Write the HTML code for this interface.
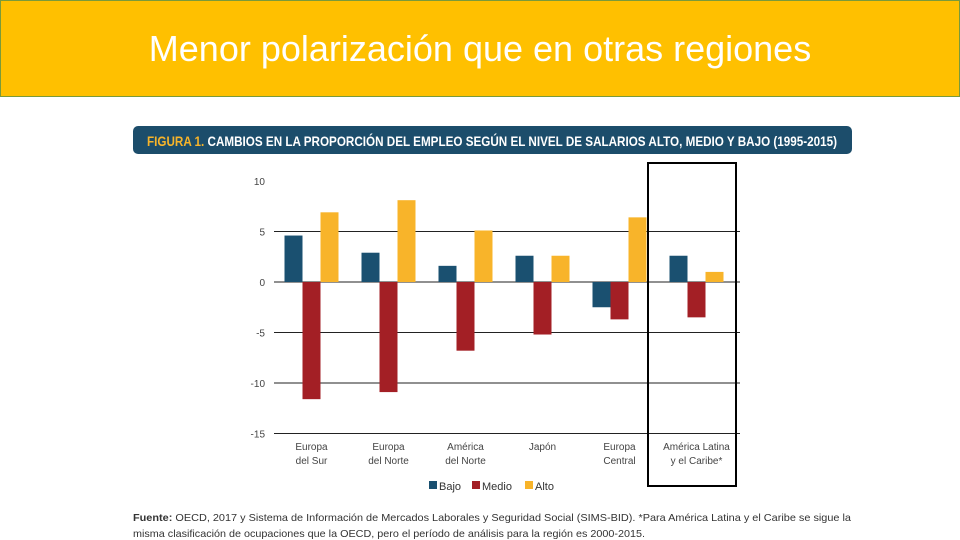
<!DOCTYPE html>
<html><head><meta charset="utf-8"><style>
body{margin:0;width:960px;height:540px;background:#fff;overflow:hidden;font-family:"Liberation Sans",sans-serif}
#banner{position:absolute;left:0;top:0;width:958px;height:95px;background:#FFC000;border:1px solid #7a9a3a;}
#banner div{position:absolute;left:0;right:0;top:27px;text-align:center;color:#fff;font-size:36px;font-weight:300}
svg{position:absolute;left:0;top:0}
</style></head><body>
<div id="banner"><div>Menor polarización que en otras regiones</div></div>
<svg id="chart" width="960" height="540">
<rect x="133" y="126" width="719" height="28" rx="5" fill="#1c4d6b"/>
<text x="147" y="146" font-size="14" font-weight="bold" textLength="690" lengthAdjust="spacingAndGlyphs" fill="#fff"><tspan fill="#f8b42a">FIGURA 1.</tspan> CAMBIOS EN LA PROPORCIÓN DEL EMPLEO SEGÚN EL NIVEL DE SALARIOS ALTO, MEDIO Y BAJO (1995-2015)</text>
<g id="grid"></g><g id="bars"></g><g id="labels"></g>
<rect x="648" y="163" width="88" height="323" fill="none" stroke="#000" stroke-width="2"/>
<g font-size="11" fill="#333">
<rect x="429" y="481" width="8" height="8" fill="#1a5070"/><text x="439" y="490">Bajo</text>
<rect x="472" y="481" width="8" height="8" fill="#a31f25"/><text x="482" y="490">Medio</text>
<rect x="525" y="481" width="8" height="8" fill="#f8b42a"/><text x="535" y="490">Alto</text>
</g>
<text x="133" y="521" font-size="10.5" fill="#333" textLength="718" lengthAdjust="spacingAndGlyphs"><tspan font-weight="bold">Fuente:</tspan> OECD, 2017 y Sistema de Información de Mercados Laborales y Seguridad Social (SIMS-BID). *Para América Latina y el Caribe se sigue la</text>
<text x="133" y="537" font-size="10.5" fill="#333" textLength="512" lengthAdjust="spacingAndGlyphs">misma clasificación de ocupaciones que la OECD, pero el período de análisis para la región es 2000-2015.</text>
</svg>
<script>
const categories=[["Europa","del Sur"],["Europa","del Norte"],["América","del Norte"],["Japón",""],["Europa","Central"],["América Latina","y el Caribe*"]];
const bajo=[4.6,2.9,1.6,2.6,-2.5,2.6];
const medio=[-11.6,-10.9,-6.8,-5.2,-3.7,-3.5];
const alto=[6.9,8.1,5.1,2.6,6.4,1.0];
const ticks=[10,5,0,-5,-10,-15];
const NS="http://www.w3.org/2000/svg";
const y=v=>282-v*10.1;
const x0=273,gw=77,bw=18;
function mk(tag,attrs,parent){const e=document.createElementNS(NS,tag);for(const k in attrs)e.setAttribute(k,attrs[k]);document.getElementById(parent).appendChild(e);return e;}
ticks.forEach(t=>{
 if(t!==10){const l=mk('line',{x1:274,x2:740,y1:y(t),y2:y(t),stroke:'#222','stroke-width':1},'grid');
 
 }
 const tx=mk('text',{x:265,y:y(t)+4,'font-size':10,fill:'#444','text-anchor':'end'},'grid');tx.textContent=t;
 
 
});
const series=[[bajo,'#1a5070','bajo'],[medio,'#a31f25','medio'],[alto,'#f8b42a','alto']];
categories.forEach((c,i)=>{
 const cx=x0+gw*i+gw/2;
 series.forEach(([arr,col,nm],j)=>{
  const v=arr[i];const bx=cx-1.5*bw+j*bw;
  const r=mk('rect',{x:bx,y:Math.min(y(v),y(0)),width:bw,height:Math.abs(y(v)-y(0)),fill:col},'bars');
  
  
 });
 c.forEach((line,k)=>{
  const t=mk('text',{x:cx,y:450+k*14,'font-size':10,fill:'#444','text-anchor':'middle'},'labels');t.textContent=line;
  
  
 });
});
</script>
</body></html>
